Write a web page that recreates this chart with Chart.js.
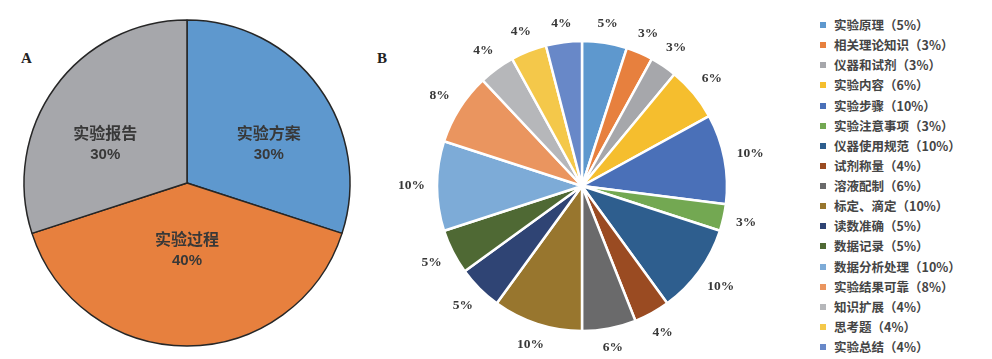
<!DOCTYPE html>
<html><head><meta charset="utf-8">
<script src="https://cdn.jsdelivr.net/npm/chart.js@4"></script>
<style>
html,body{margin:0;padding:0;background:#fff;width:992px;height:359px;overflow:hidden;position:relative;}
canvas{position:absolute;}
.tag{position:absolute;font-family:"Liberation Serif","DejaVu Serif",serif;font-weight:bold;color:#222;font-size:15px;line-height:15px;}
#legend{position:absolute;left:820px;top:15px;font-family:"Noto Sans CJK SC","Noto Sans",sans-serif;font-weight:bold;font-size:12.5px;color:#454545;}
#legend div{height:20.14px;line-height:20px;white-space:nowrap;position:relative;padding-left:14px;}
#legend span.sw{position:absolute;left:0;top:7px;width:6px;height:6px;}
</style></head>
<body>
<div class="tag" style="left:21px;top:51px;">A</div>
<div class="tag" style="left:377px;top:51px;">B</div>
<canvas id="ca" width="374" height="359" style="left:0;top:0;"></canvas>
<canvas id="cb" width="400" height="359" style="left:382px;top:0;"></canvas>
<div id="legend"></div>
<script>
const catsA = ['实验方案','实验过程','实验报告'];
const valsA = [30, 40, 30];
const colorsA = ['#5E98CE','#E7803E','#A6A7AB'];

const catsB = ['实验原理','相关理论知识','仪器和试剂','实验内容','实验步骤','实验注意事项','仪器使用规范','试剂称量','溶液配制','标定、滴定','读数准确','数据记录','数据分析处理','实验结果可靠','知识扩展','思考题','实验总结'];
const valsB = [5, 3, 3, 6, 10, 3, 10, 4, 6, 10, 5, 5, 10, 8, 4, 4, 4];
const colorsB = ['#5E98CE','#E7803E','#A6A7AB','#F5BE2E','#4A70B8','#73A852','#2E5E8E','#9A4B22','#6A6A6B','#98762E','#2F4474','#4F6934','#7DABD7','#EA955F','#B6B7BA','#F4C84A','#6888C8'];

const insideLabels = {
  id:'insideLabels',
  afterDatasetsDraw(chart){
    const ctx = chart.ctx;
    const meta = chart.getDatasetMeta(0);
    ctx.save();
    ctx.fillStyle = '#383838';
    ctx.textAlign = 'center';
    ctx.textBaseline = 'middle';
    meta.data.forEach((arc,i)=>{
      const mid = (arc.startAngle + arc.endAngle)/2;
      const R = arc.outerRadius;
      const x = arc.x + Math.cos(mid)*R*0.62;
      const y = arc.y + Math.sin(mid)*R*0.41;
      ctx.font = 'bold 16px "Noto Sans CJK SC", sans-serif';
      ctx.fillText(catsA[i], x, y-11);
      ctx.font = 'bold 15px "Liberation Sans", Arial, sans-serif';
      ctx.fillText(valsA[i] + '%', x, y+11);
    });
    ctx.restore();
  }
};

const outsideLabels = {
  id:'outsideLabels',
  afterDatasetsDraw(chart){
    const ctx = chart.ctx;
    const meta = chart.getDatasetMeta(0);
    ctx.save();
    ctx.fillStyle = '#383838';
    ctx.textAlign = 'center';
    ctx.textBaseline = 'middle';
    ctx.font = 'bold 13.5px "Liberation Serif", "DejaVu Serif", serif';
    meta.data.forEach((arc,i)=>{
      const mid = (arc.startAngle + arc.endAngle)/2;
      const txt = valsB[i] + '%';
      const w = ctx.measureText(txt).width, h = 12;
      const c = Math.cos(mid), s = Math.sin(mid);
      const r = arc.outerRadius + 12 + Math.abs(c)*w/2 + Math.abs(s)*h/2;
      ctx.fillText(txt, arc.x + c*r, arc.y + s*r);
    });
    ctx.restore();
  }
};

new Chart(document.getElementById('ca'), {
  type:'pie',
  data:{labels:catsA, datasets:[{data:valsA, backgroundColor:colorsA, borderColor:'#262626', borderWidth:1.5}]},
  options:{responsive:false, animation:false, radius:163,
    layout:{padding:{top:7}},
    plugins:{legend:{display:false}, tooltip:{enabled:false}}},
  plugins:[insideLabels]
});

new Chart(document.getElementById('cb'), {
  type:'pie',
  data:{labels:catsB, datasets:[{data:valsB, backgroundColor:colorsB, borderColor:'#ffffff', borderWidth:2.5}]},
  options:{responsive:false, animation:false, radius:145,
    layout:{padding:{top:13}},
    plugins:{legend:{display:false}, tooltip:{enabled:false}}},
  plugins:[outsideLabels]
});

const lg = document.getElementById('legend');
catsB.forEach((c,i)=>{
  const d = document.createElement('div');
  const sw = document.createElement('span');
  sw.className = 'sw'; sw.style.background = colorsB[i];
  d.appendChild(sw);
  d.appendChild(document.createTextNode(c + '（' + valsB[i] + '%）'));
  lg.appendChild(d);
});
</script>
</body></html>
